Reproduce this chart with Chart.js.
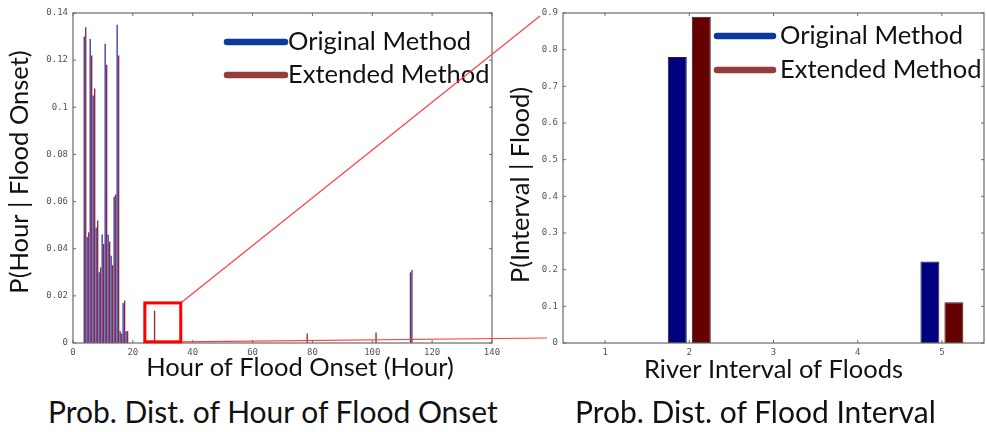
<!DOCTYPE html>
<html lang="en">
<head>
<meta charset="UTF-8" />
<title>Flood onset distributions</title>
<script src="https://cdn.jsdelivr.net/npm/chart.js"></script>
<style>
  html, body { margin: 0; padding: 0; background: #fff; }
  body { width: 987px; height: 432px; position: relative; overflow: hidden; font-family: Lato, sans-serif; }
  .box { position: absolute; top: 0; height: 390px; }
  #left { left: 0; width: 560px; }
  #right { left: 500px; width: 487px; }
  .caption { position: absolute; top: 394px; font-size: 30px; line-height: 34px; color: #111; white-space: nowrap; }
</style>
</head>
<body>
<div class="box" id="left"><canvas id="hourChart"></canvas></div>
<div class="box" id="right"><canvas id="intervalChart"></canvas></div>
<div class="caption" style="left:48px">Prob. Dist. of Hour of Flood Onset</div>
<div class="caption" style="left:575px">Prob. Dist. of Flood Interval</div>

<script>
  const seriesNames = ["Original Method", "Extended Method"];

  // left: hour of flood onset
  const hours = [4, 5, 6, 7, 8, 9, 10, 11, 12, 13, 14, 15, 16, 17, 18, 27, 78, 101, 113];
  const hourOriginal = [0.130, 0.045, 0.129, 0.105, 0.049, 0.030, 0.046, 0.127, 0.046, 0.037, 0.062, 0.135, 0.005, 0.017, 0.005, null, null, null, 0.030];
  const hourExtended = [0.134, 0.047, 0.122, 0.108, 0.052, 0.032, 0.042, 0.118, 0.043, 0.033, 0.063, 0.122, 0.004, 0.018, 0.005, 0.0137, 0.004, 0.0045, 0.031];
  const hourTicks = [0, 20, 40, 60, 80, 100, 120, 140];
  const hourProbTicks = [0, 0.02, 0.04, 0.06, 0.08, 0.1, 0.12, 0.14];

  // right: river interval of floods
  const intervals = ["1", "2", "3", "4", "5"];
  const intervalOriginal = [0, 0.78, 0, 0, 0.222];
  const intervalExtended = [0, 0.89, 0, 0, 0.111];
  const intervalProbTicks = [0, 0.1, 0.2, 0.3, 0.4, 0.5, 0.6, 0.7, 0.8, 0.9];

  const tickFont = { family: "DejaVu Sans Mono", size: 9 };
  const tickColor = "#555";
  const bigFont = "25.5px Lato";

  function fixedTicks(list) {
    return function (scale) {
      scale.ticks = list.map(v => ({ value: v }));
    };
  }
  function tickLabel(v) {
    return String(+Number(v).toFixed(2));
  }

  // matlab-ish box, inward ticks, axis titles and line legend
  const matlabFrame = {
    id: "matlabFrame",
    afterDatasetsDraw(chart, args, opts) {
      const ctx = chart.ctx;
      const a = chart.chartArea;
      const xs = chart.scales.x, ys = chart.scales.y;
      ctx.save();
      ctx.strokeStyle = "#6a6a6a";
      ctx.lineWidth = 1.2;
      ctx.strokeRect(a.left, a.top, a.right - a.left, a.bottom - a.top);
      ctx.lineWidth = 1;
      ctx.beginPath();
      xs.ticks.forEach((t, i) => {
        const px = xs.getPixelForTick(i);
        ctx.moveTo(px, a.bottom); ctx.lineTo(px, a.bottom - 3);
        ctx.moveTo(px, a.top); ctx.lineTo(px, a.top + 3);
      });
      ys.ticks.forEach((t, i) => {
        const py = ys.getPixelForTick(i);
        ctx.moveTo(a.left, py); ctx.lineTo(a.left + 3, py);
        ctx.moveTo(a.right, py); ctx.lineTo(a.right - 3, py);
      });
      ctx.stroke();

      // axis titles
      ctx.fillStyle = "#111";
      ctx.font = bigFont;
      ctx.textAlign = "center";
      ctx.textBaseline = "middle";
      ctx.fillText(opts.xTitle, a.left + opts.xTitleDx, a.bottom + opts.xTitleDy);
      ctx.translate(opts.yTitleX, a.top + opts.yTitleDy);
      ctx.rotate(-Math.PI / 2);
      ctx.fillText(opts.yTitle, 0, 0);
      ctx.setTransform(1, 0, 0, 1, 0, 0);
      ctx.restore();

      // legend
      ctx.save();
      ctx.font = bigFont;
      ctx.textBaseline = "middle";
      ctx.textAlign = "left";
      ctx.lineCap = "round";
      ctx.lineWidth = 6.5;
      chart.data.datasets.forEach((ds, i) => {
        const y = a.top + opts.legendTop + i * opts.legendGap;
        ctx.strokeStyle = opts.legendColors[i];
        ctx.beginPath();
        ctx.moveTo(a.left + opts.legendX0, y);
        ctx.lineTo(a.left + opts.legendX1, y);
        ctx.stroke();
        ctx.fillStyle = "#111";
        ctx.fillText(ds.label, a.left + opts.legendText, y);
      });
      ctx.restore();
    }
  };

  // red zoom box on the left chart
  const zoomBox = {
    id: "zoomBox",
    afterDraw(chart, args, opts) {
      if (!opts.show) return;
      const ctx = chart.ctx;
      const a = chart.chartArea;
      const xs = chart.scales.x, ys = chart.scales.y;
      const x0 = xs.getPixelForValue(opts.x[0]), x1 = xs.getPixelForValue(opts.x[1]);
      const y0 = ys.getPixelForValue(opts.y[1]), y1 = ys.getPixelForValue(opts.y[0]);
      ctx.save();
      ctx.strokeStyle = "#ff4040";
      ctx.lineWidth = 1.2;
      ctx.beginPath();
      ctx.moveTo(x1, y0); ctx.lineTo(a.right + 48, a.top + 3);
      ctx.moveTo(x1, y1); ctx.lineTo(a.right + 55, a.bottom - 5);
      ctx.stroke();
      ctx.strokeStyle = "#ff0000";
      ctx.lineWidth = 3;
      ctx.strokeRect(x0, y0, x1 - x0, y1 - y0);
      ctx.restore();
    }
  };

  Chart.register(matlabFrame, zoomBox);

  new Chart(document.getElementById("hourChart"), {
    type: "bar",
    data: {
      datasets: [
        {
          label: seriesNames[0],
          data: hours.map((h, i) => ({ x: h, y: hourOriginal[i] })),
          backgroundColor: "#3a3aa6",
          categoryPercentage: 1,
          barPercentage: 0.9
        },
        {
          label: seriesNames[1],
          data: hours.map((h, i) => ({ x: h, y: hourExtended[i] })),
          backgroundColor: "#8e2a36",
          categoryPercentage: 1,
          barPercentage: 0.9
        }
      ]
    },
    options: {
      responsive: true,
      maintainAspectRatio: false,
      animation: false,
      layout: { padding: { left: 0, top: 13, right: 68, bottom: 0 } },
      plugins: {
        legend: { display: false },
        tooltip: { enabled: false },
        matlabFrame: {
          xTitle: "Hour of Flood Onset (Hour)", xTitleDx: 227, xTitleDy: 25,
          yTitle: "P(Hour | Flood Onset)", yTitleX: 20, yTitleDy: 159,
          legendTop: 29, legendGap: 33, legendX0: 154, legendX1: 212, legendText: 215,
          legendColors: ["#0b3a9e", "#943b3b"]
        },
        zoomBox: { show: true, x: [24, 36], y: [0.0005, 0.017] }
      },
      scales: {
        x: {
          type: "linear",
          offset: false,
          min: hourTicks[0],
          max: hourTicks[hourTicks.length - 1],
          afterBuildTicks: fixedTicks(hourTicks),
          afterFit: s => { s.height = 47; },
          grid: { display: false, drawTicks: false },
          border: { display: false },
          ticks: { font: tickFont, color: tickColor, padding: 4, maxRotation: 0, autoSkip: false }
        },
        y: {
          min: hourProbTicks[0],
          max: hourProbTicks[hourProbTicks.length - 1],
          afterBuildTicks: fixedTicks(hourProbTicks),
          afterFit: s => { s.width = 73; },
          grid: { display: false, drawTicks: false },
          border: { display: false },
          ticks: { font: tickFont, color: tickColor, padding: 5, callback: tickLabel }
        }
      }
    }
  });

  new Chart(document.getElementById("intervalChart"), {
    type: "bar",
    data: {
      labels: intervals,
      datasets: [
        {
          label: seriesNames[0],
          data: intervalOriginal,
          backgroundColor: "#000080",
          borderColor: "#222",
          borderWidth: 1,
          borderSkipped: false,
          categoryPercentage: 0.57,
          barPercentage: 0.79
        },
        {
          label: seriesNames[1],
          data: intervalExtended,
          backgroundColor: "#660000",
          borderColor: "#222",
          borderWidth: 1,
          borderSkipped: false,
          categoryPercentage: 0.57,
          barPercentage: 0.79
        }
      ]
    },
    options: {
      responsive: true,
      maintainAspectRatio: false,
      animation: false,
      layout: { padding: { left: 0, top: 13, right: 3, bottom: 0 } },
      plugins: {
        legend: { display: false },
        tooltip: { enabled: false },
        matlabFrame: {
          xTitle: "River Interval of Floods", xTitleDx: 210.5, xTitleDy: 27,
          yTitle: "P(Interval | Flood)", yTitleX: 21, yTitleDy: 172,
          legendTop: 23, legendGap: 34, legendX0: 154, legendX1: 210, legendText: 217,
          legendColors: ["#0b3a9e", "#943b3b"]
        },
        zoomBox: { show: false }
      },
      scales: {
        x: {
          afterFit: s => { s.height = 47; },
          grid: { display: false, drawTicks: false },
          border: { display: false },
          ticks: { font: tickFont, color: tickColor, padding: 4, maxRotation: 0 }
        },
        y: {
          min: intervalProbTicks[0],
          max: intervalProbTicks[intervalProbTicks.length - 1],
          afterBuildTicks: fixedTicks(intervalProbTicks),
          afterFit: s => { s.width = 63; },
          grid: { display: false, drawTicks: false },
          border: { display: false },
          ticks: { font: tickFont, color: tickColor, padding: 5, callback: tickLabel }
        }
      }
    }
  });
</script>
</body>
</html>
